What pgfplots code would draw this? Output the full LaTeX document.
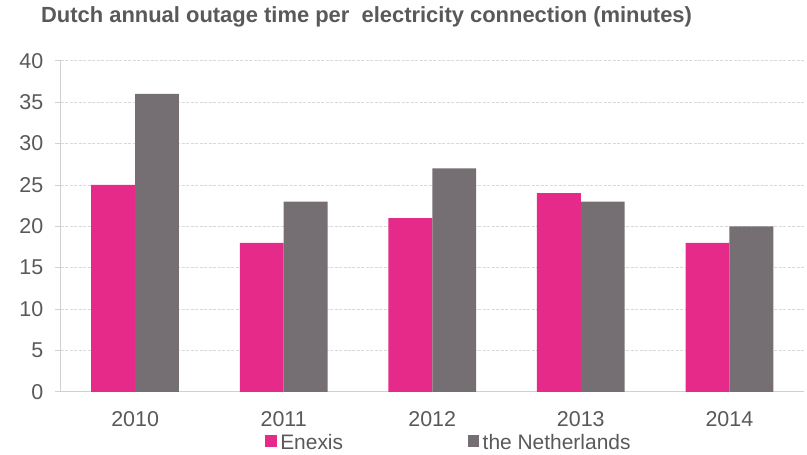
\documentclass[border=0pt]{standalone}
\usepackage{pgfplots}
\pgfplotsset{compat=1.18}
\usepackage{fontspec}
\setmainfont{Liberation Sans}
\definecolor{enx}{HTML}{E62A8A}
\definecolor{nl}{HTML}{756E73}
\definecolor{txt}{HTML}{595959}
\definecolor{axl}{HTML}{D0D0D0}
\definecolor{grd}{HTML}{D9D9D9}
\begin{document}
\begin{tikzpicture}
\begin{axis}[
  name=ax,
  scale only axis,
  width=745pt, height=332pt,
  xmin=-0.5, xmax=4.5,
  ymin=0, ymax=40,
  ytick={0,5,...,40},
  xtick={0,1,2,3,4},
  xticklabels={2010,2011,2012,2013,2014},
  extra x ticks={-0.5,0.5,1.5,2.5,3.5,4.5},
  extra x tick labels={},
  extra x tick style={major tick length=6pt, tick style={draw=axl, line width=0.8pt}},
  major x tick style={draw=none},
  axis x line*=bottom,
  axis y line*=left,
  axis line style={draw=axl, line width=1pt, -},
  y tick style={draw=axl, line width=0.8pt},
  tick align=outside,
  major tick length=6pt,
  ymajorgrids,
  grid style={draw=grd, dash pattern=on 3pt off 1.5pt, line width=0.8pt},
  ybar,
  bar width=44pt,
  /pgf/number format/assume math mode=true,
  ticklabel style={font=\fontsize{21.5}{25}\selectfont, text=txt},
  yticklabel style={xshift=-8pt},
  xticklabel style={yshift=-10pt},
  legend style={draw=none, fill=none, inner sep=0pt, font=\fontsize{21}{25}\selectfont, text=txt,
    at={(rel axis cs:0.275,0)}, anchor=north west, yshift=-40pt,
    /tikz/every even column/.append style={column sep=123pt}},
  legend columns=2,
  legend cell align=left,
  legend image code/.code={\fill[#1] (0pt,-4.5pt) rectangle (11.5pt,7pt); \path (13pt,0pt);},
  clip=false,
]
\addplot[fill=enx, draw=none, bar shift=-22pt] coordinates {(0,25) (1,18) (2,21) (3,24) (4,18)};
\addplot[fill=nl, draw=none, bar shift=22pt] coordinates {(0,36) (1,23) (2,27) (3,23) (4,20)};
\legend{Enexis, the Netherlands}
\end{axis}
\node[anchor=base west, inner sep=0pt, text=txt, font=\bfseries\fontsize{22}{26}\selectfont] at ([shift={(-20pt,370pt)}]ax.south west) {Dutch annual outage time per\ \ electricity connection (minutes)};
\path[use as bounding box] ([shift={(-61pt,-63pt)}]ax.south west) rectangle ([shift={(1pt,61pt)}]ax.north east);
\end{tikzpicture}
\end{document}
